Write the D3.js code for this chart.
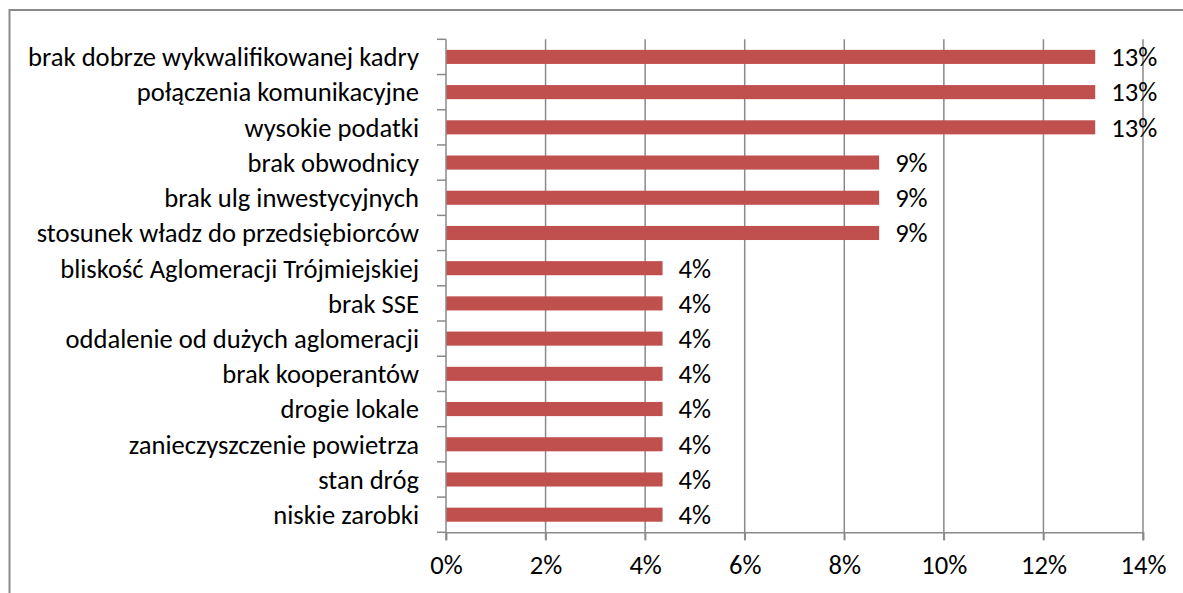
<!DOCTYPE html>
<html>
<head>
<meta charset="utf-8">
<script src="https://cdn.jsdelivr.net/npm/d3@7"></script>
<style>
  html, body { margin: 0; padding: 0; background: #fff; }
  svg { display: block; }
  text { font-family: Carlito, Calibri, Lato, "Open Sans", sans-serif; fill: #000; }
</style>
</head>
<body>
<svg id="chart" width="1183" height="593"></svg>
<script>
// Categories, top to bottom
const categories = [
  "brak dobrze wykwalifikowanej kadry",
  "połączenia komunikacyjne",
  "wysokie podatki",
  "brak obwodnicy",
  "brak ulg inwestycyjnych",
  "stosunek władz do przedsiębiorców",
  "bliskość Aglomeracji Trójmiejskiej",
  "brak SSE",
  "oddalenie od dużych aglomeracji",
  "brak kooperantów",
  "drogie lokale",
  "zanieczyszczenie powietrza",
  "stan dróg",
  "niskie zarobki"
];

// Share of answers, in percent
const values = [13.04, 13.04, 13.04, 8.70, 8.70, 8.70, 4.35, 4.35, 4.35, 4.35, 4.35, 4.35, 4.35, 4.35];

// X axis ticks, in percent
const xTicks = [0, 2, 4, 6, 8, 10, 12, 14];

const svg = d3.select("#chart");
const fontSize = 26.6;
const gridColor = "#8a8a8a";
const barColor = "#c0504d";

const plot = { left: 446, right: 1143, top: 39.3, bottom: 532.3 };

const x = d3.scaleLinear().domain([0, 14]).range([plot.left, plot.right]);
const y = d3.scaleBand().domain(categories).range([plot.top, plot.bottom])
  .paddingInner(0.6).paddingOuter(0.3);

// Outer chart frame
svg.append("path")
  .attr("d", "M9.5,593V10H1183")
  .attr("fill", "none")
  .attr("stroke", gridColor)
  .attr("stroke-width", 2);

// Vertical gridlines
svg.append("g")
  .selectAll("line")
  .data(xTicks.slice(1))
  .join("line")
  .attr("x1", d => x(d)).attr("x2", d => x(d))
  .attr("y1", plot.top).attr("y2", plot.bottom + 8)
  .attr("stroke", gridColor).attr("stroke-width", 1.5);

// Bars
svg.append("g")
  .selectAll("rect")
  .data(values)
  .join("rect")
  .attr("x", x(0))
  .attr("y", (d, i) => y(categories[i]))
  .attr("width", d => x(d) - x(0))
  .attr("height", y.bandwidth())
  .attr("fill", barColor);

// Value labels
svg.append("g")
  .selectAll("text")
  .data(values)
  .join("text")
  .attr("x", d => x(d) + 16)
  .attr("y", (d, i) => y(categories[i]) + y.bandwidth() / 2)
  .attr("dy", "0.35em")
  .attr("font-size", fontSize)
  .text(d => d3.format(".0f")(d) + "%");

// Category axis: line, ticks between categories, labels
const step = y.step();
const y0 = plot.top;
svg.append("line")
  .attr("x1", x(0)).attr("x2", x(0))
  .attr("y1", y0).attr("y2", plot.bottom + 8)
  .attr("stroke", gridColor).attr("stroke-width", 1.5);

svg.append("g")
  .selectAll("line")
  .data(d3.range(categories.length + 1))
  .join("line")
  .attr("x1", x(0) - 9).attr("x2", x(0))
  .attr("y1", i => y0 + i * step).attr("y2", i => y0 + i * step)
  .attr("stroke", gridColor).attr("stroke-width", 1.5);

svg.append("g")
  .selectAll("text")
  .data(categories)
  .join("text")
  .attr("x", 419)
  .attr("y", d => y(d) + y.bandwidth() / 2)
  .attr("dy", "0.35em")
  .attr("text-anchor", "end")
  .attr("font-size", fontSize)
  .text(d => d);

// Value axis
const xAxis = d3.axisBottom(x)
  .tickValues(xTicks)
  .tickFormat(d => d + "%")
  .tickSize(8)
  .tickPadding(15);

const gx = svg.append("g")
  .attr("transform", `translate(0,${plot.bottom})`)
  .call(xAxis);
gx.attr("font-family", null).attr("font-size", null);
gx.select(".domain").attr("stroke", gridColor).attr("stroke-width", 1.5);
gx.selectAll(".tick line").attr("stroke", gridColor).attr("stroke-width", 1.5);
gx.selectAll(".tick text")
  .attr("font-size", fontSize)
  .attr("fill", "#000");
</script>
</body>
</html>
